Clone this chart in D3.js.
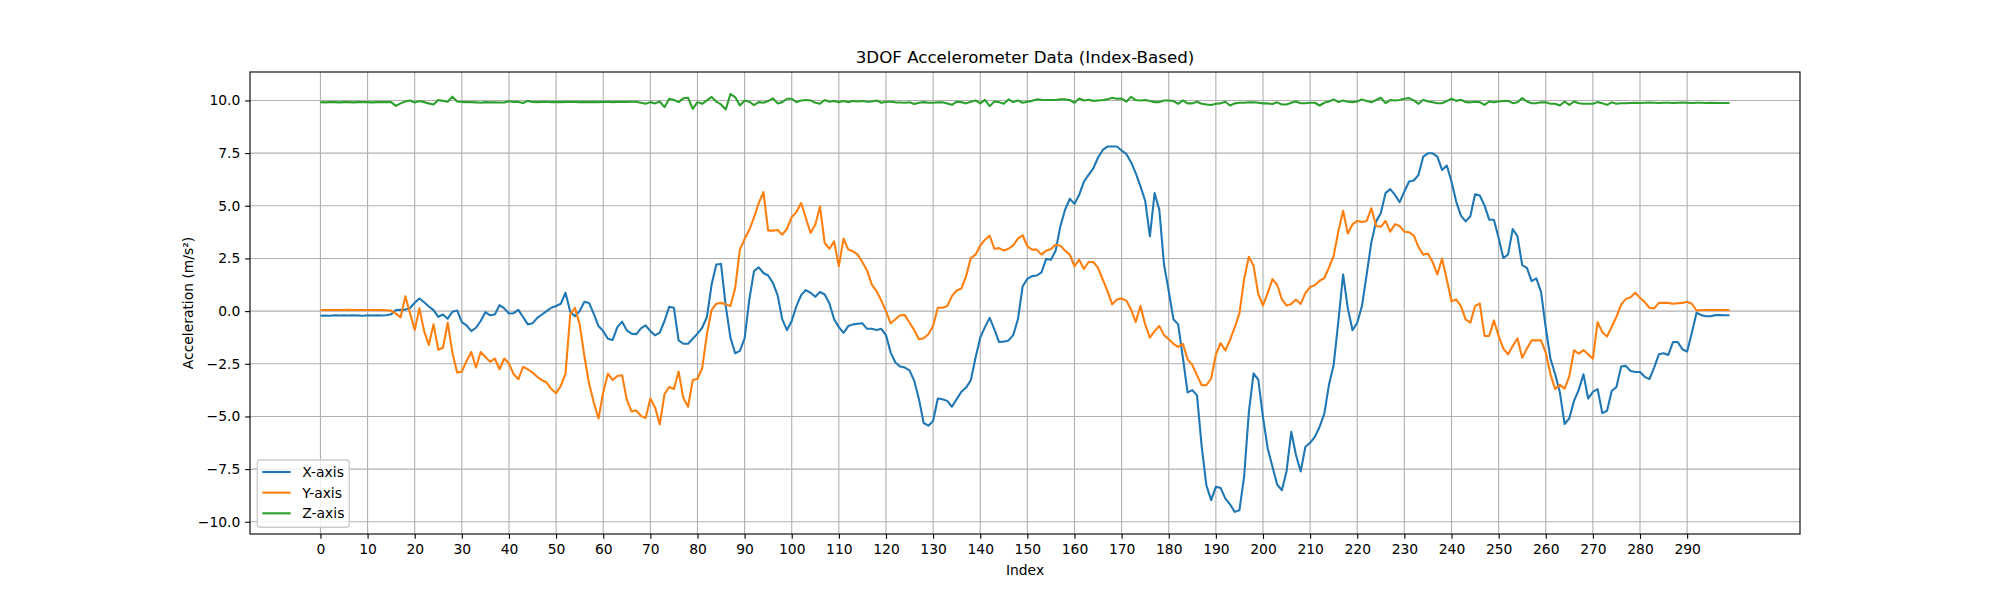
<!DOCTYPE html>
<html>
<head>
<meta charset="utf-8">
<script src="https://cdn.jsdelivr.net/npm/d3@7"></script>
<style>
  body { margin: 0; background: #fff; }
  text { font-family: "DejaVu Sans", sans-serif; }
</style>
</head>
<body>
<script>
// readings, one value per sample index
var xAxisVals = [
  -0.22,-0.21,-0.22,-0.20,-0.21,-0.20,-0.21,-0.20,-0.21,-0.22,
  -0.20,-0.21,-0.20,-0.21,-0.20,-0.15,0.05,0.06,0.07,0.15,
  0.40,0.60,0.42,0.22,0.05,-0.27,-0.16,-0.36,-0.03,0.03,
  -0.52,-0.68,-0.95,-0.79,-0.47,-0.05,-0.20,-0.16,0.28,0.13,
  -0.11,-0.10,0.06,-0.28,-0.63,-0.58,-0.32,-0.16,0.00,0.16,
  0.24,0.35,0.87,-0.03,-0.24,0.00,0.44,0.39,-0.13,-0.71,
  -0.95,-1.31,-1.37,-0.76,-0.50,-0.91,-1.07,-1.10,-0.82,-0.68,
  -0.95,-1.15,-1.02,-0.47,0.20,0.16,-1.39,-1.55,-1.55,-1.31,
  -1.07,-0.79,-0.28,1.26,2.21,2.24,0.24,-1.26,-2.00,-1.89,
  -1.29,0.55,1.90,2.08,1.81,1.69,1.34,0.76,-0.39,-0.90,
  -0.47,0.24,0.76,1.00,0.87,0.68,0.91,0.79,0.36,-0.39,
  -0.76,-1.03,-0.71,-0.63,-0.60,-0.58,-0.84,-0.84,-0.90,-0.84,
  -1.14,-1.97,-2.44,-2.63,-2.68,-2.81,-3.31,-4.18,-5.31,-5.44,
  -5.22,-4.15,-4.18,-4.26,-4.54,-4.18,-3.83,-3.63,-3.28,-2.21,
  -1.26,-0.76,-0.32,-0.87,-1.47,-1.45,-1.39,-1.14,-0.39,1.18,
  1.53,1.66,1.69,1.84,2.48,2.44,2.87,4.02,4.81,5.33,
  5.09,5.52,6.15,6.47,6.78,7.29,7.65,7.81,7.81,7.81,
  7.62,7.46,7.07,6.55,5.92,5.24,3.55,5.60,4.81,2.21,
  0.95,-0.39,-0.63,-2.21,-3.86,-3.75,-4.00,-6.44,-8.28,-8.97,
  -8.34,-8.39,-8.89,-9.17,-9.53,-9.45,-7.84,-4.80,-2.95,-3.25,
  -5.03,-6.52,-7.38,-8.23,-8.50,-7.60,-5.73,-6.83,-7.61,-6.44,
  -6.25,-5.97,-5.50,-4.88,-3.50,-2.55,-0.47,1.74,0.13,-0.91,
  -0.55,0.24,1.74,3.27,4.26,4.65,5.60,5.79,5.52,5.17,
  5.68,6.15,6.20,6.47,7.33,7.49,7.49,7.33,6.70,6.91,
  6.15,5.20,4.53,4.26,4.50,5.55,5.49,5.02,4.34,4.34,
  3.47,2.52,2.68,3.90,3.55,2.18,2.05,1.42,1.55,0.91,
  -0.79,-2.26,-3.00,-3.86,-5.36,-5.09,-4.26,-3.74,-3.00,-4.15,
  -3.83,-3.70,-4.84,-4.73,-3.79,-3.60,-2.63,-2.60,-2.84,-2.89,
  -2.89,-3.12,-3.23,-2.68,-2.05,-2.00,-2.08,-1.47,-1.47,-1.81,
  -1.92,-1.03,-0.08,-0.19,-0.24,-0.24,-0.19,-0.19,-0.20,-0.20
];
var yAxisVals = [
  0.05,0.05,0.05,0.05,0.05,0.05,0.06,0.05,0.05,0.05,
  0.05,0.05,0.05,0.05,0.04,0.02,-0.12,-0.30,0.70,-0.10,
  -0.90,0.13,-0.95,-1.60,-0.63,-1.83,-1.74,-0.55,-1.97,-2.92,
  -2.87,-2.37,-1.94,-2.68,-1.94,-2.18,-2.41,-2.25,-2.76,-2.25,
  -2.49,-3.00,-3.23,-2.65,-2.76,-2.92,-3.12,-3.28,-3.39,-3.70,
  -3.90,-3.55,-2.97,-0.16,0.16,-0.63,-2.13,-3.44,-4.34,-5.10,
  -3.86,-2.97,-3.27,-3.08,-3.04,-4.20,-4.76,-4.72,-4.97,-5.08,
  -4.15,-4.57,-5.38,-3.94,-3.60,-3.70,-2.87,-4.13,-4.54,-3.27,
  -3.21,-2.71,-1.10,0.05,0.35,0.39,0.32,0.24,1.10,2.92,
  3.42,3.86,4.45,5.13,5.65,3.82,3.82,3.85,3.63,3.91,
  4.46,4.70,5.13,4.42,3.71,4.10,4.97,3.23,2.96,3.31,
  2.13,3.44,2.92,2.84,2.68,2.33,1.92,1.26,0.95,0.50,
  0.00,-0.58,-0.39,-0.20,-0.19,-0.55,-0.90,-1.34,-1.29,-1.10,
  -0.71,0.16,0.16,0.24,0.71,0.98,1.07,1.66,2.52,2.68,
  3.11,3.39,3.58,2.96,2.99,2.88,2.96,3.12,3.44,3.60,
  3.08,2.92,2.92,2.68,2.87,2.95,3.15,3.10,2.87,2.68,
  2.13,2.44,2.00,2.33,2.33,2.05,1.50,0.95,0.32,0.55,
  0.60,0.50,0.08,-0.52,0.24,-0.63,-1.26,-0.95,-0.71,-1.14,
  -1.34,-1.55,-1.70,-1.55,-2.29,-2.55,-3.05,-3.52,-3.52,-3.20,
  -2.07,-1.52,-1.87,-1.37,-0.77,-0.11,1.52,2.58,2.15,0.81,
  0.26,0.85,1.52,1.25,0.57,0.26,0.34,0.55,0.34,0.85,
  1.15,1.23,1.44,1.56,2.07,2.62,3.80,4.76,3.68,4.12,
  4.28,4.23,4.28,4.88,4.04,4.00,4.28,3.77,4.12,4.04,
  3.77,3.74,3.60,3.04,2.68,2.73,2.33,1.74,2.49,1.50,
  0.47,0.55,0.24,-0.39,-0.55,0.24,0.36,-1.18,-1.18,-0.44,
  -1.18,-1.78,-2.05,-1.66,-1.29,-2.21,-1.78,-1.39,-1.39,-1.39,
  -1.97,-3.00,-3.70,-3.50,-3.68,-3.10,-1.86,-2.02,-1.85,-2.05,
  -2.26,-0.52,-1.00,-1.21,-0.74,-0.27,0.32,0.58,0.66,0.87,
  0.63,0.43,0.16,0.13,0.39,0.39,0.39,0.35,0.37,0.39,
  0.44,0.35,0.03,0.05,0.05,0.05,0.05,0.05,0.05,0.05
];
var zAxisVals = [
  9.92,9.91,9.92,9.92,9.91,9.92,9.92,9.91,9.92,9.92,
  9.92,9.91,9.92,9.92,9.92,9.92,9.74,9.86,9.95,10.00,
  9.90,9.97,9.92,9.86,9.81,10.02,9.98,9.94,10.18,9.95,
  9.93,9.92,9.92,9.91,9.89,9.92,9.91,9.91,9.90,9.90,
  9.96,9.93,9.93,9.88,9.98,9.93,9.92,9.93,9.94,9.92,
  9.93,9.92,9.93,9.94,9.93,9.92,9.93,9.92,9.93,9.92,
  9.93,9.94,9.92,9.93,9.94,9.93,9.94,9.94,9.89,9.84,
  9.92,9.86,9.95,9.68,10.08,10.02,9.92,10.10,10.13,9.60,
  9.92,9.84,10.00,10.17,9.94,9.81,9.57,10.30,10.16,9.76,
  10.00,9.94,9.78,9.92,9.89,9.97,10.10,9.86,9.92,10.08,
  10.08,9.92,10.00,10.02,10.00,9.89,9.84,10.02,9.94,9.97,
  9.92,9.97,9.92,9.97,9.95,9.97,9.94,9.95,10.00,9.89,
  9.94,9.94,9.91,9.90,9.89,9.91,9.83,9.89,9.92,9.89,
  9.89,9.91,9.91,9.85,9.79,9.94,9.92,9.86,9.94,10.00,
  9.86,10.03,9.73,9.95,9.92,9.84,10.05,9.92,10.00,9.89,
  9.94,9.98,10.05,10.03,10.02,10.02,10.02,10.06,10.05,10.02,
  9.89,10.09,10.00,10.03,9.98,10.00,10.02,10.05,10.13,10.08,
  10.09,9.94,10.17,10.02,10.00,10.02,9.97,9.92,9.92,10.00,
  10.00,9.97,9.84,10.00,9.86,9.86,9.94,9.84,9.81,9.78,
  9.84,9.86,9.94,9.76,9.86,9.89,9.89,9.91,9.91,9.89,
  9.86,9.86,9.83,9.91,9.81,9.81,9.89,9.95,9.87,9.87,
  9.89,9.89,9.76,9.89,9.95,10.05,9.92,10.00,9.94,9.92,
  9.95,10.05,9.97,9.91,10.02,10.13,9.87,10.02,10.00,10.02,
  10.08,10.11,10.00,9.84,10.03,9.95,9.91,9.87,9.87,9.97,
  10.08,9.98,10.03,9.92,9.91,9.94,9.92,9.79,9.95,9.91,
  9.95,9.97,9.98,9.87,9.91,10.11,9.95,9.87,9.87,9.91,
  9.91,9.84,9.84,9.76,9.95,9.79,9.95,9.87,9.84,9.84,
  9.84,9.92,9.87,9.79,9.91,9.84,9.87,9.87,9.88,9.89,
  9.88,9.89,9.90,9.89,9.88,9.89,9.89,9.88,9.89,9.90,
  9.89,9.88,9.89,9.89,9.88,9.89,9.88,9.88,9.88,9.88
];
var seriesNames = ["X-axis", "Y-axis", "Z-axis"];
var xTicks = [0,10,20,30,40,50,60,70,80,90,100,110,120,130,140,150,160,170,180,190,200,210,220,230,240,250,260,270,280,290];
var yTicks = [-10, -7.5, -5, -2.5, 0, 2.5, 5, 7.5, 10];

var colors = ["#1f77b4", "#ff7f0e", "#2ca02c"];
var series = [xAxisVals, yAxisVals, zAxisVals];

var W = 2000, H = 600;
var plotL = 250, plotR = 1800, plotT = 72, plotB = 534;
var pt = 100 / 72;
var fs = 10 * pt;

var svg = d3.select("body").append("svg")
  .attr("width", W).attr("height", H)
  .style("display", "block");

var x = d3.scaleLinear().domain([-14.95, 313.95]).range([plotL, plotR]);
var y = d3.scaleLinear().domain([-10.58, 11.35]).range([plotB, plotT]);

// grid
var grid = svg.append("g").attr("stroke", "#b0b0b0").attr("stroke-width", 0.8 * pt);
grid.selectAll(".gx").data(xTicks).enter().append("line")
  .attr("x1", d => x(d)).attr("x2", d => x(d))
  .attr("y1", plotT).attr("y2", plotB);
grid.selectAll(".gy").data(yTicks).enter().append("line")
  .attr("x1", plotL).attr("x2", plotR)
  .attr("y1", d => y(d)).attr("y2", d => y(d));

// data lines
var line = d3.line().x((d, i) => x(i)).y(d => y(d));
svg.append("g").selectAll("path")
  .data(series)
  .enter().append("path")
  .attr("d", line)
  .attr("fill", "none")
  .attr("stroke", (d, i) => colors[i])
  .attr("stroke-width", 1.5 * pt)
  .attr("stroke-linejoin", "round")
  .attr("stroke-linecap", "butt");

// axes
var xAxis = d3.axisBottom(x).tickValues(xTicks).tickFormat(d3.format("d"))
  .tickSize(3.5 * pt).tickPadding(3.5 * pt);
var yAxis = d3.axisLeft(y).tickValues(yTicks).tickFormat(d3.format(".1f"))
  .tickSize(3.5 * pt).tickPadding(3.5 * pt);

var gx = svg.append("g").attr("transform", "translate(0," + plotB + ")").call(xAxis);
var gy = svg.append("g").attr("transform", "translate(" + plotL + ",0)").call(yAxis);
[gx, gy].forEach(g => {
  g.select(".domain").remove();
  g.selectAll("line").attr("stroke", "#000").attr("stroke-width", 0.8 * pt);
  g.selectAll("text").attr("fill", "#000")
    .style("font-family", "DejaVu Sans").style("font-size", fs + "px");
});

// spines
svg.append("rect")
  .attr("x", plotL).attr("y", plotT)
  .attr("width", plotR - plotL).attr("height", plotB - plotT)
  .attr("fill", "none").attr("stroke", "#000").attr("stroke-width", 0.8 * pt);

// labels
svg.append("text")
  .attr("x", (plotL + plotR) / 2).attr("y", plotT - 6 * pt - 0.5)
  .attr("text-anchor", "middle")
  .style("font-size", 12 * pt + "px")
  .text("3DOF Accelerometer Data (Index-Based)");

svg.append("text")
  .attr("x", (plotL + plotR) / 2).attr("y", 575)
  .attr("text-anchor", "middle")
  .style("font-size", fs + "px")
  .text("Index");

svg.append("text")
  .attr("transform", "translate(193," + (plotT + plotB) / 2 + ") rotate(-90)")
  .attr("text-anchor", "middle")
  .style("font-size", fs + "px")
  .text("Acceleration (m/s²)");

// legend
var lg = svg.append("g");
lg.append("rect")
  .attr("x", 257.3).attr("y", 460).attr("width", 92).attr("height", 67.3)
  .attr("rx", 2.8).attr("ry", 2.8)
  .attr("fill", "#fff").attr("fill-opacity", 0.8)
  .attr("stroke", "#cccccc").attr("stroke-width", 1 * pt);
var rows = lg.selectAll(".row").data(seriesNames).enter().append("g")
  .attr("transform", (d, i) => "translate(0," + (472 + i * 20.65) + ")");
rows.append("line")
  .attr("x1", 262.3).attr("x2", 290.7)
  .attr("stroke", (d, i) => colors[i]).attr("stroke-width", 1.5 * pt);
rows.append("text")
  .attr("x", 302.3).attr("y", 5)
  .style("font-size", fs + "px")
  .text(d => d);
</script>
</body>
</html>
